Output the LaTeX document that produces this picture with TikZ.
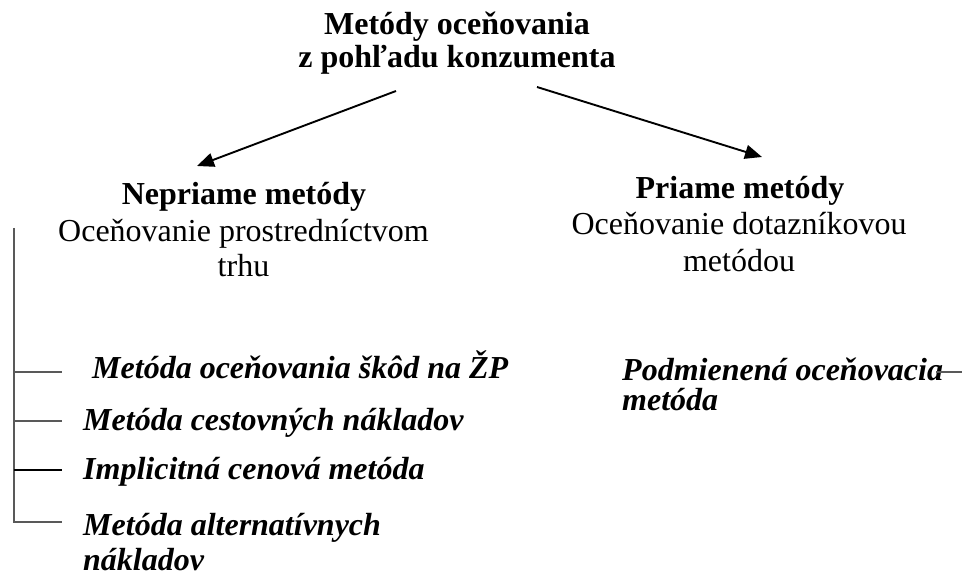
\documentclass[tikz,border=0pt]{standalone}
\usepackage{fontspec}
\setmainfont{Liberation Serif}
\usetikzlibrary{arrows.meta}
\begin{document}
\begin{tikzpicture}[x=1pt,y=-1pt,
  head/.style={font=\fontsize{32}{35}\selectfont\bfseries,anchor=base,inner sep=0pt},
  sub/.style={font=\fontsize{32}{35}\selectfont,anchor=base,inner sep=0pt},
  item/.style={font=\fontsize{32}{35}\selectfont\bfseries\itshape,anchor=base west,inner sep=0pt},
  arr/.style={line width=1.9pt,-{Triangle[length=17pt,width=14pt]}},
  brk/.style={line width=1.3pt,draw=black!65}]
\useasboundingbox (0,0) rectangle (962,580);
\node[head] (title1) at (457,35) {Metódy oceňovania};
\node[head] (title2) at (457,68) {z pohľadu konzumenta};
\node[head] (nep) at (244,205) {Nepriame metódy};
\node[sub] (nepsub1) at (243.5,242) {Oceňovanie prostredníctvom};
\node[sub] (nepsub2) at (243.5,277) {trhu};
\node[head] (pri) at (740,199) {Priame metódy};
\node[sub] (prisub1) at (739,235) {Oceňovanie dotazníkovou};
\node[sub] (prisub2) at (739,272) {metódou};
\coordinate (a1s) at (396,91);
\coordinate (a1e) at (197,166);
\coordinate (a2s) at (537,87);
\coordinate (a2e) at (762,157);
\draw[arr] (a1s) -- (a1e);
\draw[arr] (a2s) -- (a2e);
\node[item] (i1) at (92,378) {Metóda oceňovania škôd na ŽP};
\node[item] (i2) at (83,430) {Metóda cestovných nákladov};
\node[item] (i3) at (83,479) {Implicitná cenová metóda};
\node[item] (i4a) at (83,535) {Metóda alternatívnych};
\node[item] (i4b) at (83,570) {nákladov};
\node[item] (r1a) at (622,380) {Podmienená oceňovacia};
\node[item] (r1b) at (622,410) {metóda};
\coordinate (vt) at (14,228);
\coordinate (vb) at (14,522);
\coordinate (h1) at (62,372);
\coordinate (h2) at (62,421);
\coordinate (h3) at (62,470);
\coordinate (h4) at (62,522);
\draw[brk] (vt) -- (vb) -- (h4);
\draw[brk] (vt |- h1) -- (h1);
\draw[brk] (vt |- h2) -- (h2);
\draw[brk,draw=black] (vt |- h3) -- (h3);
\coordinate (rl) at (936,372);
\coordinate (rr) at (962,372);
\draw[brk] (rl) -- (rr);
\end{tikzpicture}
\end{document}
